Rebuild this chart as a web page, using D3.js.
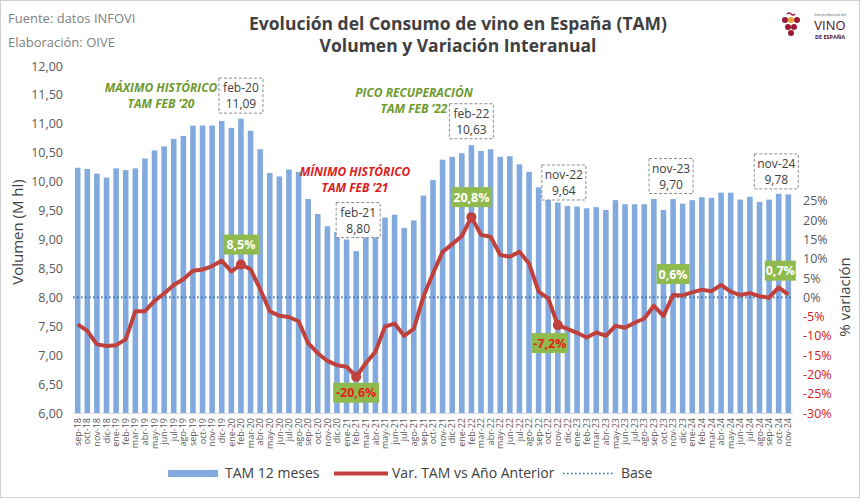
<!DOCTYPE html>
<html>
<head>
<meta charset="utf-8">
<script src="https://cdn.jsdelivr.net/npm/d3@7/dist/d3.min.js"></script>
<style>
  html, body { margin: 0; padding: 0; background: #fff; }
  svg { display: block; }
  text { font-family: "Open Sans", "Liberation Sans", sans-serif; }
</style>
</head>
<body>
<svg id="chart" width="860" height="498"></svg>
<script>
// ---------------- DATA ----------------
const months = [
  "sep-18","oct-18","nov-18","dic-18",
  "ene-19","feb-19","mar-19","abr-19","may-19","jun-19","jul-19","ago-19","sep-19","oct-19","nov-19","dic-19",
  "ene-20","feb-20","mar-20","abr-20","may-20","jun-20","jul-20","ago-20","sep-20","oct-20","nov-20","dic-20",
  "ene-21","feb-21","mar-21","abr-21","may-21","jun-21","jul-21","ago-21","sep-21","oct-21","nov-21","dic-21",
  "ene-22","feb-22","mar-22","abr-22","may-22","jun-22","jul-22","ago-22","sep-22","oct-22","nov-22","dic-22",
  "ene-23","feb-23","mar-23","abr-23","may-23","jun-23","jul-23","ago-23","sep-23","oct-23","nov-23","dic-23",
  "ene-24","feb-24","mar-24","abr-24","may-24","jun-24","jul-24","ago-24","sep-24","oct-24","nov-24"
];
const volumen = [
  10.24,10.22,10.14,10.07,
  10.23,10.20,10.23,10.40,10.54,10.61,10.74,10.79,10.97,10.97,10.97,11.05,
  10.93,11.09,10.88,10.56,10.15,10.09,10.21,10.17,9.70,9.44,9.23,9.13,
  9.00,8.80,9.06,9.12,9.38,9.43,9.20,9.33,9.76,10.03,10.38,10.43,
  10.49,10.63,10.53,10.56,10.43,10.44,10.30,10.17,9.90,9.99,9.64,9.58,
  9.57,9.54,9.56,9.51,9.68,9.61,9.61,9.61,9.70,9.51,9.70,9.62,
  9.68,9.73,9.72,9.81,9.81,9.69,9.74,9.65,9.69,9.79,9.78
];
const variacion = [
  -7.0,-8.7,-12.2,-12.6,
  -12.4,-10.9,-3.6,-3.6,-0.9,1.0,3.2,4.7,6.9,7.2,8.1,9.5,
  6.7,8.5,7.3,2.1,-3.6,-4.8,-5.1,-6.2,-11.9,-14.5,-16.5,-17.6,
  -18.0,-20.6,-17.1,-14.1,-7.6,-6.8,-10.0,-8.2,0.2,6.2,11.8,13.8,
  15.9,20.8,16.2,15.7,11.0,10.5,11.8,8.8,1.5,-0.3,-7.2,-8.2,
  -9.2,-10.4,-9.1,-10.0,-7.4,-7.9,-6.6,-5.5,-2.2,-4.8,0.6,0.5,
  1.3,2.0,1.6,3.2,1.5,0.6,1.1,0.3,-0.1,2.6,0.7
];
const leftTicks = [6,6.5,7,7.5,8,8.5,9,9.5,10,10.5,11,11.5,12];
const rightTicks = [-30,-25,-20,-15,-10,-5,0,5,10,15,20,25];
const baseValue = 0;

// highlighted points
const volLabels = ["feb-20","feb-21","feb-22","nov-22","nov-23","nov-24"];
const pctLabels = ["feb-20","feb-21","feb-22","nov-22","nov-23","nov-24"];
const markerMonths = ["feb-20","feb-21","feb-22","nov-22"];

const fmt2 = d3.format(".2f");
const comma = s => s.replace(".", ",");

// ---------------- LAYOUT ----------------
const svg = d3.select("#chart");
const W = 860, H = 498;
const plot = { left: 73, right: 793, top: 66, bottom: 413 };

svg.append("rect").attr("x",0.5).attr("y",0.5).attr("width",W-1).attr("height",H-1)
  .attr("fill","#fff").attr("stroke","#d0d0d0");

const x = d3.scaleBand().domain(months).range([plot.left, plot.right]).paddingInner(0.42).paddingOuter(0.2);
const yL = d3.scaleLinear().domain([6,12]).range([plot.bottom, plot.top]);
const yR = d3.scaleLinear().domain([-30,60]).range([plot.bottom, plot.top]);
const cx = m => x(m) + x.bandwidth()/2;

const barColor = "#82aadf", lineColor = "#c0413c", green = "#8fba4e", red = "#e3201e";

// bars
svg.append("g").selectAll("rect").data(months).join("rect")
  .attr("x", d => x(d)).attr("width", x.bandwidth())
  .attr("y", (d,i) => yL(volumen[i])).attr("height", (d,i) => yL(6) - yL(volumen[i]))
  .attr("fill", barColor);

// bottom axis line
svg.append("line").attr("x1", plot.left).attr("x2", plot.right)
  .attr("y1", plot.bottom + 0.5).attr("y2", plot.bottom + 0.5).attr("stroke", "#d9d9d9");

// base dotted line
svg.append("line").attr("x1", plot.left).attr("x2", plot.right)
  .attr("y1", yR(baseValue)).attr("y2", yR(baseValue))
  .attr("stroke", "#2f6fbf").attr("stroke-width", 1.6).attr("stroke-dasharray", "1.6,2.4");

// line
const line = d3.line().x((d,i) => cx(months[i])).y(d => yR(d));
svg.append("path").datum(variacion).attr("d", line)
  .attr("fill","none").attr("stroke", lineColor).attr("stroke-width", 4).attr("stroke-linejoin","round");
svg.append("g").selectAll("circle").data(markerMonths).join("circle")
  .attr("cx", d => cx(d)).attr("cy", d => yR(variacion[months.indexOf(d)]))
  .attr("r", 5).attr("fill", lineColor);

// left axis
const axL = d3.axisLeft(yL).tickValues(leftTicks).tickSize(0).tickPadding(10)
  .tickFormat(d => comma(fmt2(d)));
const gL = svg.append("g").attr("transform", `translate(${plot.left},0)`).call(axL);
gL.select(".domain").remove();
gL.selectAll("text").attr("fill","#595959").attr("font-size", 12.5);

// right axis
const axR = d3.axisRight(yR).tickValues(rightTicks).tickSize(0).tickPadding(10)
  .tickFormat(d => String(d) + "%");
const gR = svg.append("g").attr("transform", `translate(${plot.right},0)`).call(axR);
gR.select(".domain").remove();
gR.selectAll("text").attr("fill", d => d < 0 ? "#d42020" : "#595959").attr("font-size", 12.5);

// x axis
const axX = d3.axisBottom(x).tickSize(0).tickPadding(0);
const gX = svg.append("g").attr("transform", `translate(0,${plot.bottom})`).call(axX);
gX.select(".domain").remove();
gX.selectAll("text").attr("fill","#595959").attr("font-size", 9)
  .attr("text-anchor","end").attr("dy", "0.35em")
  .attr("transform", "translate(0,5) rotate(-90)")
  .attr("x", 0).attr("y", 0);

// axis titles
svg.append("text").attr("transform", "translate(23,232) rotate(-90)")
  .attr("text-anchor","middle").attr("font-size", 15).attr("fill","#404040").text("Volumen (M hl)");
svg.append("text").attr("transform", "translate(850,297) rotate(-90)")
  .attr("text-anchor","middle").attr("font-size", 15).attr("fill","#404040").text("% variación");

// titles
svg.append("text").attr("x", 458).attr("y", 30).attr("text-anchor","middle")
  .attr("font-size", 17.5).attr("font-weight", "bold").attr("fill","#404040")
  .text("Evolución del Consumo de vino en España (TAM)");
svg.append("text").attr("x", 458).attr("y", 52).attr("text-anchor","middle")
  .attr("font-size", 17.5).attr("font-weight", "bold").attr("fill","#404040")
  .text("Volumen y Variación Interanual");
svg.append("text").attr("x", 8).attr("y", 23).attr("font-size", 13).attr("fill","#808080").text("Fuente: datos INFOVI");
svg.append("text").attr("x", 8).attr("y", 47).attr("font-size", 13).attr("fill","#808080").text("Elaboración: OIVE");

// logo
const logo = svg.append("g");
const grapes = [[785,20,"#9c1b33"],[791,20,"#e8a33a"],[797,20,"#9c1b33"],[788,27,"#9c1b33"],[794,27,"#9c1b33"],[791,33,"#9c1b33"]];
logo.selectAll("circle").data(grapes).join("circle").attr("cx",d=>d[0]).attr("cy",d=>d[1]).attr("r",3).attr("fill",d=>d[2]);
logo.append("path").attr("d","M787,14 q2,-2 4,0 t4,0").attr("fill","none").attr("stroke","#9c1b33").attr("stroke-width",1.3);
logo.append("text").attr("x",830).attr("y",16).attr("text-anchor","middle").attr("font-size",3.5).attr("fill","#555").text("Interprofesional del");
logo.append("text").attr("x",830).attr("y",30).attr("text-anchor","middle").attr("font-size",13)
  .attr("font-family","'Liberation Serif', serif").attr("fill","#5a1020").text("VINO");
logo.append("text").attr("x",830).attr("y",39).attr("text-anchor","middle").attr("font-size",5.5)
  .attr("font-family","'Liberation Serif', serif").attr("font-weight","bold").attr("fill","#5a1020").text("DE ESPAÑA");

// volume call-out boxes (dashed)
const volBoxOffsets = { "feb-20":[0,-23], "feb-21":[2,-31], "feb-22":[0,-24], "nov-22":[6,-20], "nov-23":[-2,-23], "nov-24":[-12,-23] };
volLabels.forEach(m => {
  const i = months.indexOf(m);
  const [dx, dy] = volBoxOffsets[m];
  const bx = cx(m) + dx, by = yL(volumen[i]) + dy;
  const g = svg.append("g");
  g.append("rect").attr("x", bx-22).attr("y", by-17.5).attr("width", 44).attr("height", 35)
    .attr("fill","#fff").attr("stroke","#8c8c8c").attr("stroke-dasharray","3,2").attr("stroke-width",1);
  g.append("text").attr("x", bx).attr("y", by-3.5).attr("text-anchor","middle").attr("font-size", 12).attr("fill","#404040").text(m);
  g.append("text").attr("x", bx).attr("y", by+12.5).attr("text-anchor","middle").attr("font-size", 12).attr("fill","#404040").text(comma(fmt2(volumen[i])));
});

// pct tags (green)
const pctOffsets = { "feb-20":[0,-20,36], "feb-21":[0,16,46], "feb-22":[0,-20,39], "nov-22":[-8,18,36], "nov-23":[0,-21,33], "nov-24":[-8,-24,31] };
pctLabels.forEach(m => {
  const i = months.indexOf(m);
  const v = variacion[i];
  const [dx, dy, w] = pctOffsets[m];
  const bx = cx(m) + dx, by = yR(v) + dy;
  svg.append("rect").attr("x", bx - w/2).attr("y", by-10).attr("width", w).attr("height", 20).attr("fill", green);
  svg.append("text").attr("x", bx).attr("y", by+4.5).attr("text-anchor","middle").attr("font-size", 12.5)
    .attr("font-weight","bold").attr("fill", v < 0 ? red : "#fff")
    .text(comma(v.toFixed(1)) + "%");
});

// text annotations
const notes = [
  { lines: ["MÁXIMO HISTÓRICO", "TAM FEB \u201920"], x: 161, y: 92, color: "#6f9a2e" },
  { lines: ["PICO RECUPERACIÓN", "TAM FEB \u201922"], x: 414, y: 97, color: "#6f9a2e" },
  { lines: ["MÍNIMO HISTÓRICO", "TAM FEB \u201921"], x: 355, y: 176, color: "#e01b1b" }
];
notes.forEach(n => {
  n.lines.forEach((t, k) => {
    svg.append("text").attr("x", n.x).attr("y", n.y + k*15.5).attr("text-anchor","middle")
      .attr("font-size", 12).attr("font-weight","bold").attr("font-style","italic").attr("fill", n.color).text(t);
  });
});

// legend
const lg = svg.append("g");
lg.append("rect").attr("x",168).attr("y",470).attr("width",50).attr("height",7).attr("fill",barColor);
lg.append("text").attr("x",225).attr("y",478).attr("font-size",14).attr("fill","#404040").text("TAM 12 meses");
lg.append("line").attr("x1",334).attr("x2",388).attr("y1",473.5).attr("y2",473.5).attr("stroke",lineColor).attr("stroke-width",4);
lg.append("text").attr("x",392).attr("y",478).attr("font-size",14).attr("fill","#404040").text("Var. TAM vs Año Anterior");
lg.append("line").attr("x1",563).attr("x2",613).attr("y1",473.5).attr("y2",473.5).attr("stroke","#2f6fbf").attr("stroke-width",1.6).attr("stroke-dasharray","1.6,2.4");
lg.append("text").attr("x",621).attr("y",478).attr("font-size",14).attr("fill","#404040").text("Base");
</script>
</body>
</html>
